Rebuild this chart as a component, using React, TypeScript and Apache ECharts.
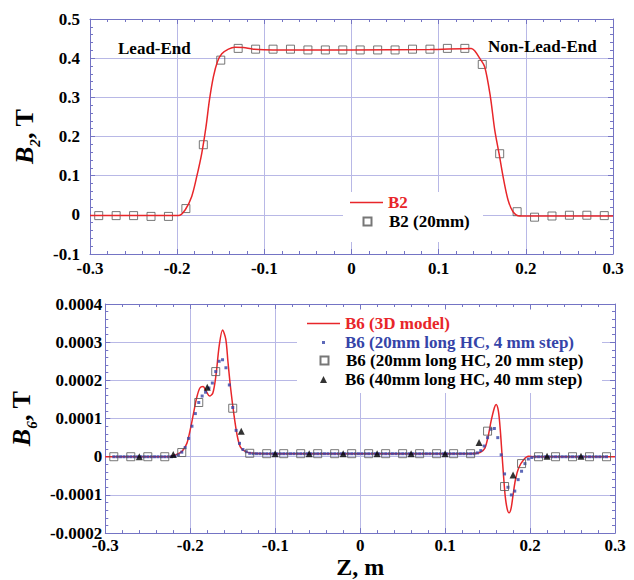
import React, { useEffect, useRef } from "react";
import * as echarts from "echarts";

const FONT = "Liberation Serif, Times New Roman, serif";
const RED = "#e8262a";
const BLUE = "#3544a8";
const AXIS_COLOR = "#7474c4";
const GRID_COLOR = "#b8b8e6";

// ---------- Top panel: B2 ----------
const b2CurveZ = [-0.3, -0.21, -0.1986, -0.1907, -0.1833, -0.1775, -0.1718, -0.1669, -0.163, -0.1584, -0.1538, -0.1488, -0.1412, -0.1337, -0.1241, -0.1126, -0.09, 0, 0.09, 0.1374, 0.1413, 0.147, 0.1528, 0.1593, 0.1643, 0.1693, 0.1746, 0.1796, 0.1853, 0.193, 0.21, 0.3];
const b2CurveV = [-0.002, -0.002, -0.002, 0.013, 0.047, 0.098, 0.157, 0.225, 0.293, 0.353, 0.391, 0.411, 0.423, 0.428, 0.427, 0.423, 0.421, 0.421, 0.422, 0.425, 0.419, 0.4, 0.378, 0.302, 0.217, 0.156, 0.089, 0.038, 0.008, -0.003, -0.003, -0.003];

const b2SquareZ = [-0.29, -0.27, -0.25, -0.23, -0.21, -0.19, -0.17, -0.15, -0.13, -0.11, -0.09, -0.07, -0.05, -0.03, -0.01, 0.01, 0.03, 0.05, 0.07, 0.09, 0.11, 0.13, 0.15, 0.17, 0.19, 0.21, 0.23, 0.25, 0.27, 0.29];
const b2SquareV = [-0.002, -0.002, -0.002, -0.004, -0.004, 0.016, 0.179, 0.395, 0.425, 0.423, 0.423, 0.423, 0.421, 0.421, 0.421, 0.421, 0.421, 0.421, 0.423, 0.423, 0.425, 0.425, 0.384, 0.156, 0.008, -0.006, -0.003, -0.001, -0.001, -0.002];

// ---------- Bottom panel: B6 ----------
const b6CurveZ = [-0.3, -0.225, -0.2173, -0.2097, -0.204, -0.2002, -0.1963, -0.1925, -0.1887, -0.1849, -0.1811, -0.1773, -0.1734, -0.1697, -0.1659, -0.162, -0.1582, -0.1556, -0.1525, -0.1487, -0.1448, -0.1411, -0.1354, -0.1259, -0.11, 0.13, 0.141, 0.1467, 0.1505, 0.1543, 0.1581, 0.16, 0.1627, 0.165, 0.1669, 0.1688, 0.1707, 0.173, 0.1753, 0.1776, 0.1799, 0.1829, 0.1867, 0.1925, 0.1982, 0.2057, 0.3];
const b6CurveV = [0, 0, 0.05e-4, 0.14e-4, 0.35e-4, 0.69e-4, 1.12e-4, 1.54e-4, 1.8e-4, 1.84e-4, 1.71e-4, 1.59e-4, 1.67e-4, 2.14e-4, 2.91e-4, 3.32e-4, 3.08e-4, 2.48e-4, 1.8e-4, 1.12e-4, 0.56e-4, 0.26e-4, 0.14e-4, 0.09e-4, 0.08e-4, 0.08e-4, 0.11e-4, 0.22e-4, 0.52e-4, 0.95e-4, 1.29e-4, 1.37e-4, 1.2e-4, 0.69e-4, 0.09e-4, -0.5e-4, -1.02e-4, -1.36e-4, -1.47e-4, -1.36e-4, -1.02e-4, -0.59e-4, -0.29e-4, -0.08e-4, 0.01e-4, 0, 0];

// 20 mm long HC, 4 mm step: first centre and step along Z
const b6DotStartZ = -0.29;
const b6DotStepZ = 0.004;
const b6DotV = [
  0, 0, 0, 0, 0, 0, 0, 0, 0, 0, 0, 0, 0, 0, 0, 0, 0, 0,
  0.02e-4, 0.05e-4, 0.12e-4, 0.24e-4, 0.48e-4, 0.8e-4, 1.13e-4, 1.42e-4, 1.59e-4, 1.69e-4, 1.8e-4, 1.93e-4, 2.23e-4, 2.5e-4, 2.54e-4, 2.33e-4, 1.88e-4, 1.29e-4, 0.69e-4, 0.35e-4, 0.19e-4, 0.13e-4, 0.09e-4,
  0.08e-4, 0.08e-4, 0.08e-4, 0.08e-4, 0.08e-4, 0.08e-4, 0.08e-4, 0.08e-4, 0.08e-4, 0.08e-4, 0.08e-4,
  0.08e-4, 0.08e-4, 0.08e-4, 0.08e-4, 0.08e-4, 0.08e-4, 0.08e-4, 0.08e-4, 0.08e-4, 0.08e-4, 0.08e-4,
  0.08e-4, 0.08e-4, 0.08e-4, 0.08e-4, 0.08e-4, 0.08e-4, 0.08e-4, 0.08e-4, 0.08e-4, 0.08e-4, 0.08e-4,
  0.08e-4, 0.08e-4, 0.08e-4, 0.08e-4, 0.08e-4, 0.08e-4, 0.08e-4, 0.08e-4, 0.08e-4, 0.08e-4, 0.08e-4,
  0.08e-4, 0.08e-4, 0.08e-4, 0.08e-4, 0.08e-4, 0.08e-4, 0.08e-4, 0.08e-4, 0.08e-4, 0.08e-4, 0.08e-4,
  0.08e-4, 0.08e-4, 0.08e-4, 0.08e-4, 0.08e-4, 0.08e-4, 0.08e-4, 0.08e-4, 0.08e-4, 0.08e-4, 0.08e-4,
  0.1e-4, 0.16e-4, 0.28e-4, 0.5e-4, 0.72e-4, 0.74e-4, 0.5e-4, 0.05e-4, -0.45e-4, -0.8e-4, -1.0e-4, -0.9e-4, -0.6e-4, -0.38e-4, -0.18e-4, -0.06e-4, -0.02e-4,
  0, 0, 0, 0, 0, 0, 0, 0, 0, 0, 0, 0, 0, 0, 0, 0, 0, 0, 0, 0, 0, 0,
];

const b6SquareZ = [-0.29, -0.27, -0.25, -0.23, -0.21, -0.19, -0.17, -0.15, -0.13, -0.11, -0.09, -0.07, -0.05, -0.03, -0.01, 0.01, 0.03, 0.05, 0.07, 0.09, 0.11, 0.13, 0.15, 0.17, 0.19, 0.21, 0.23, 0.25, 0.27, 0.29];
const b6SquareV = [0, 0, 0, 0, 0.11e-4, 1.42e-4, 2.23e-4, 1.27e-4, 0.09e-4, 0.08e-4, 0.08e-4, 0.08e-4, 0.08e-4, 0.08e-4, 0.08e-4, 0.08e-4, 0.08e-4, 0.08e-4, 0.08e-4, 0.08e-4, 0.08e-4, 0.08e-4, 0.67e-4, -0.78e-4, -0.18e-4, 0, 0, 0, 0, 0];

const b6TriZ = [-0.26, -0.22, -0.18, -0.14, -0.1, -0.06, -0.02, 0.02, 0.06, 0.1, 0.14, 0.18, 0.22, 0.26];
const b6TriV = [0, 0.06e-4, 1.82e-4, 0.67e-4, 0.08e-4, 0.08e-4, 0.08e-4, 0.08e-4, 0.08e-4, 0.08e-4, 0.37e-4, -0.48e-4, 0.01e-4, 0.01e-4];

const seriesNames = {
  b2: "B2",
  b2sq: "B2 (20mm)",
  b6: "B6 (3D model)",
  b6dot: "B6 (20mm long HC, 4 mm step)",
  b6sq: "B6 (20mm long HC, 20 mm step)",
  b6tri: "B6 (40mm long HC, 40 mm step)",
};

// legend icons: zero-length segments at x=0 and x=33 keep the 33-px icon box, the mark sits centred
const ICON_LINE = "path://M0,0H33V1.6H0Z";
const ICON_SQUARE = "path://M0,4L0,4M33,4L33,4M12.5,0H20.5V8H12.5Z";
const ICON_DOT = "path://M0,1.5L0,1.5M33,1.5L33,1.5M15,0H18V3H15Z";
const ICON_TRI = "path://M0,3.5L0,3.5M33,3.5L33,3.5M16.5,0L20,7L13,7Z";

const zip = (zs: number[], vs: number[]) => zs.map((z, i) => [z, vs[i]]);

function fmtFixed(d: number) {
  return (v: number) => (Math.abs(v) < 1e-12 ? "0" : v.toFixed(d));
}

const labelStyle = {
  fontFamily: FONT,
  fontWeight: "bold" as const,
  fontSize: 17,
  color: "#000",
};

function xAxes(gridIndex: number, labelMargin: number, withName: boolean) {
  const common = {
    type: "value" as const,
    gridIndex,
    min: -0.3,
    max: 0.3,
    interval: 0.1,
    axisLine: { show: true, onZero: false, lineStyle: { color: AXIS_COLOR, width: 1 } },
    axisTick: { show: true, inside: true, length: 5, lineStyle: { color: AXIS_COLOR } },
    minorTick: { show: true, splitNumber: 5, length: 3, lineStyle: { color: AXIS_COLOR } },
  };
  return [
    {
      ...common,
      position: "bottom",
      axisLabel: { ...labelStyle, margin: labelMargin, formatter: fmtFixed(1) },
      splitLine: { show: true, lineStyle: { color: GRID_COLOR, width: 1 } },
      ...(withName
        ? {
            name: "Z, m",
            nameLocation: "middle",
            nameGap: 19,
            nameTextStyle: { fontFamily: FONT, fontWeight: "bold", fontSize: 24, color: "#000" },
          }
        : {}),
    },
    {
      ...common,
      position: "top",
      axisLabel: { show: false },
      splitLine: { show: false },
    },
  ];
}

function yAxes(
  gridIndex: number,
  min: number,
  max: number,
  interval: number,
  decimals: number,
  labelMargin: number,
  sub: string,
  nameGap: number
) {
  const common = {
    type: "value" as const,
    gridIndex,
    min,
    max,
    interval,
    axisLine: { show: true, onZero: false, lineStyle: { color: AXIS_COLOR, width: 1 } },
    axisTick: { show: true, inside: true, length: 5, lineStyle: { color: AXIS_COLOR } },
    minorTick: { show: true, splitNumber: 5, length: 3, lineStyle: { color: AXIS_COLOR } },
  };
  return [
    {
      ...common,
      position: "left",
      axisLabel: { ...labelStyle, margin: labelMargin, formatter: fmtFixed(decimals) },
      splitLine: { show: true, lineStyle: { color: GRID_COLOR, width: 1 } },
      name: `{b|B}{s|${sub}}{t|, T}`,
      nameLocation: "middle",
      nameRotate: 90,
      nameGap,
      nameTextStyle: {
        color: "#000",
        rich: {
          b: { fontFamily: FONT, fontWeight: "bold", fontStyle: "italic", fontSize: 26, lineHeight: 36, color: "#000" },
          s: { fontFamily: FONT, fontWeight: "bold", fontStyle: "italic", fontSize: 15, lineHeight: 15, verticalAlign: "bottom", color: "#000" },
          t: { fontFamily: FONT, fontWeight: "bold", fontSize: 26, lineHeight: 36, color: "#000" },
        },
      },
    },
    {
      ...common,
      position: "right",
      axisLabel: { show: false },
      splitLine: { show: false },
    },
  ];
}

function legendItem(name: string, icon: string, left: number, top: number, color: string) {
  return {
    data: [{ name, icon }],
    left,
    top,
    orient: "vertical",
    padding: 0,
    itemWidth: 33,
    itemHeight: 8,
    selectedMode: false,
    textStyle: { fontFamily: FONT, fontWeight: "bold", fontSize: 17, lineHeight: 17, color },
  };
}

export default function App() {
  const ref = useRef<HTMLDivElement>(null);

  useEffect(() => {
    if (!ref.current) return;
    const chart = echarts.init(ref.current, undefined, { renderer: "svg" });

    const option = {
      animation: false,
      backgroundColor: "#ffffff",
      grid: [
        { left: 90, top: 19, width: 523, height: 235, containLabel: false },
        { left: 91, top: 304, width: 524, height: 234, containLabel: false },
      ],
      xAxis: [...xAxes(0, 6, false), ...xAxes(1, 4, true)],
      yAxis: [
        ...yAxes(0, -0.1, 0.5, 0.1, 1, 10, "2", 44),
        ...yAxes(1, -0.0002, 0.0004, 0.0001, 4, 3, "6", 49),
      ],
      legend: [
        legendItem(seriesNames.b2, ICON_LINE, 350, 194, RED),
        legendItem(seriesNames.b2sq, ICON_SQUARE, 350, 213, "#000"),
        legendItem(seriesNames.b6, ICON_LINE, 307, 315, RED),
        legendItem(seriesNames.b6dot, ICON_DOT, 307, 334, BLUE),
        legendItem(seriesNames.b6sq, ICON_SQUARE, 307, 352, "#000"),
        legendItem(seriesNames.b6tri, ICON_TRI, 307, 371, "#000"),
      ],
      graphic: [
        { type: "rect", z: 1, shape: { x: 343, y: 192, width: 140, height: 50 }, style: { fill: "#ffffff" } },
        { type: "rect", z: 1, shape: { x: 297, y: 310, width: 305, height: 83 }, style: { fill: "#ffffff" } },
        {
          type: "text",
          z: 5,
          x: 118,
          y: 48,
          style: { text: "Lead-End", fill: "#000", font: `bold 17px ${FONT}`, verticalAlign: "middle" },
        },
        {
          type: "text",
          z: 5,
          x: 488,
          y: 46,
          style: { text: "Non-Lead-End", fill: "#000", font: `bold 17px ${FONT}`, verticalAlign: "middle" },
        },
      ],
      series: [
        {
          type: "scatter",
          name: seriesNames.b2sq,
          xAxisIndex: 0,
          yAxisIndex: 0,
          symbol: "rect",
          symbolSize: 8,
          itemStyle: { color: "rgba(255,255,255,0)", borderColor: "#555", borderWidth: 1 },
          data: zip(b2SquareZ, b2SquareV),
          z: 2,
        },
        {
          type: "line",
          name: seriesNames.b2,
          xAxisIndex: 0,
          yAxisIndex: 0,
          symbol: "none",
          showSymbol: false,
          smooth: 0.3,
          lineStyle: { color: RED, width: 1.5 },
          itemStyle: { color: RED },
          data: zip(b2CurveZ, b2CurveV),
          z: 3,
        },
        {
          type: "line",
          name: seriesNames.b6,
          xAxisIndex: 2,
          yAxisIndex: 2,
          symbol: "none",
          showSymbol: false,
          smooth: 0.3,
          lineStyle: { color: RED, width: 1.5 },
          itemStyle: { color: RED },
          data: zip(b6CurveZ, b6CurveV),
          z: 2,
        },
        {
          type: "scatter",
          name: seriesNames.b6dot,
          xAxisIndex: 2,
          yAxisIndex: 2,
          symbol: "rect",
          symbolSize: 3,
          itemStyle: { color: BLUE },
          data: b6DotV.map((v, k) => [+(b6DotStartZ + k * b6DotStepZ).toFixed(3), v]),
          z: 3,
        },
        {
          type: "scatter",
          name: seriesNames.b6sq,
          xAxisIndex: 2,
          yAxisIndex: 2,
          symbol: "rect",
          symbolSize: 8,
          itemStyle: { color: "rgba(255,255,255,0)", borderColor: "#555", borderWidth: 1 },
          data: zip(b6SquareZ, b6SquareV),
          z: 4,
        },
        {
          type: "scatter",
          name: seriesNames.b6tri,
          xAxisIndex: 2,
          yAxisIndex: 2,
          symbol: "triangle",
          symbolSize: 7,
          itemStyle: { color: "#000" },
          data: zip(b6TriZ, b6TriV),
          z: 5,
        },
      ],
    };

    chart.setOption(option as any);
    return () => {
      chart.dispose();
    };
  }, []);

  return (
    <div
      ref={ref}
      style={{ position: "fixed", left: 0, top: 0, width: 634, height: 580, background: "#fff" }}
    />
  );
}
